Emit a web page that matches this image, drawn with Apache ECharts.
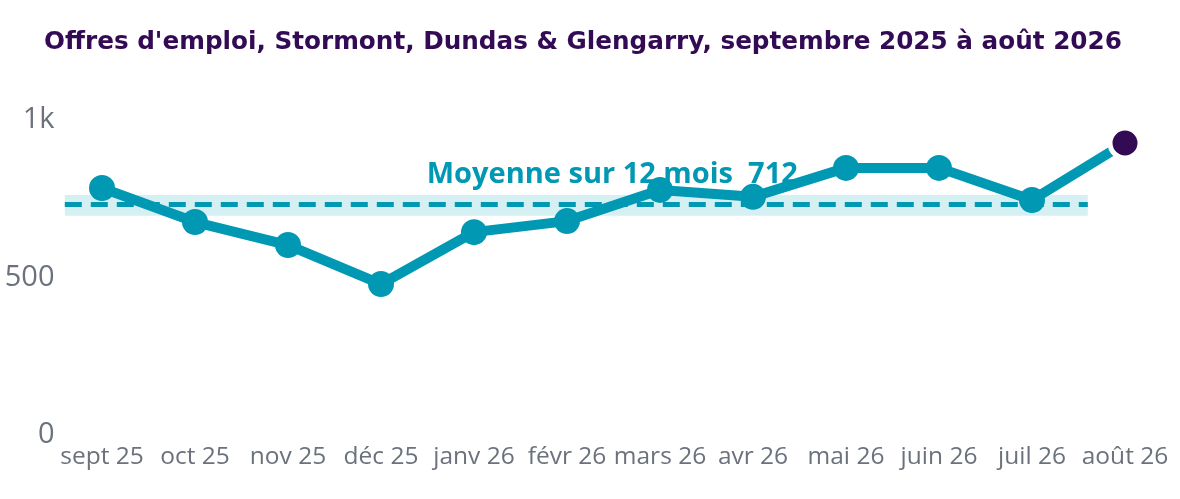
<!DOCTYPE html>
<html>
<head>
<meta charset="utf-8">
<script src="https://cdn.jsdelivr.net/npm/echarts@6/dist/echarts.min.js"></script>
<style>
html,body{margin:0;padding:0;background:#fff;}
#chart{width:1180px;height:499px;}
</style>
</head>
<body>
<div id="chart"></div>
<script>
const categories = ['sept 25','oct 25','nov 25','déc 25','janv 26','févr 26','mars 26','avr 26','mai 26','juin 26','juil 26','août 26'];
const values = [784, 676, 603, 479, 644, 679, 778, 756, 848, 848, 746, 927];
const yTickLabels = {0: '0', 500: '500', 1000: '1k'};
const avgLineValue = 731;
const avgBandLow = 696;
const avgBandHigh = 762;
const avgLabelText = 'Moyenne sur 12 mois  712';
const avgStartIndex = -0.4;
const avgEndIndex = 10.6;

const teal = '#0098b2';
const purple = '#330a54';

const chart = echarts.init(document.getElementById('chart'), null, {renderer: 'canvas'});
const lastIdx = values.length - 1;
const seriesData = values.map((v, i) => {
  const item = {value: [i, v]};
  if (i === lastIdx) {
    item.itemStyle = {color: purple, borderColor: '#fff', borderWidth: 5};
    item.symbolSize = 30;
  }
  return item;
});

chart.setOption({
  animation: false,
  backgroundColor: '#fff',
  title: {
    text: "Offres d'emploi, Stormont, Dundas & Glengarry, septembre 2025 à août 2026",
    left: 39,
    top: 25,
    textStyle: {fontFamily: 'DejaVu Sans', fontWeight: 'bold', fontSize: 24.7, color: purple}
  },
  grid: {left: 55.5, right: 8.5, top: 120, bottom: 64, containLabel: false},
  xAxis: {
    type: 'value',
    min: -0.5,
    max: 11.5,
    splitLine: {show: false},
    axisLine: {show: false},
    axisTick: {show: false},
    axisLabel: {
      customValues: categories.map((c, i) => i),
      formatter: v => categories[Math.round(v)] || '',
      color: '#6b727d',
      fontFamily: 'Open Sans',
      fontSize: 24.5,
      margin: 10,
      showMinLabel: true,
      showMaxLabel: true
    }
  },
  yAxis: {
    type: 'value',
    min: 0,
    max: 1000,
    interval: 500,
    splitLine: {show: false},
    axisLine: {show: false},
    axisTick: {show: false},
    axisLabel: {
      formatter: v => yTickLabels[v] !== undefined ? yTickLabels[v] : '',
      color: '#6b727d',
      fontFamily: 'Open Sans',
      fontSize: 29,
      margin: 1
    }
  },
  series: [{
    type: 'line',
    data: seriesData,
    symbol: 'circle',
    symbolSize: 26,
    lineStyle: {color: teal, width: 10},
    itemStyle: {color: teal},
    z: 5,
    markArea: {
      silent: true,
      itemStyle: {color: '#d5f0f2'},
      data: [[{coord: [avgStartIndex, avgBandHigh]}, {coord: [avgEndIndex, avgBandLow]}]],
      z: 1
    },
    markLine: {
      silent: true,
      symbol: 'none',
      lineStyle: {color: teal, width: 5, type: [17, 9]},
      label: {
        show: true,
        position: 'insideMiddleTop',
        formatter: avgLabelText,
        color: teal,
        fontFamily: 'Open Sans',
        fontWeight: 'bold',
        fontSize: 29,
        textBorderColor: '#fff',
        textBorderWidth: 4,
        distance: 16,
        offset: [36, 0]
      },
      data: [[{coord: [avgStartIndex, avgLineValue]}, {coord: [avgEndIndex, avgLineValue]}]]
    }
  }]
});
</script>
</body>
</html>
